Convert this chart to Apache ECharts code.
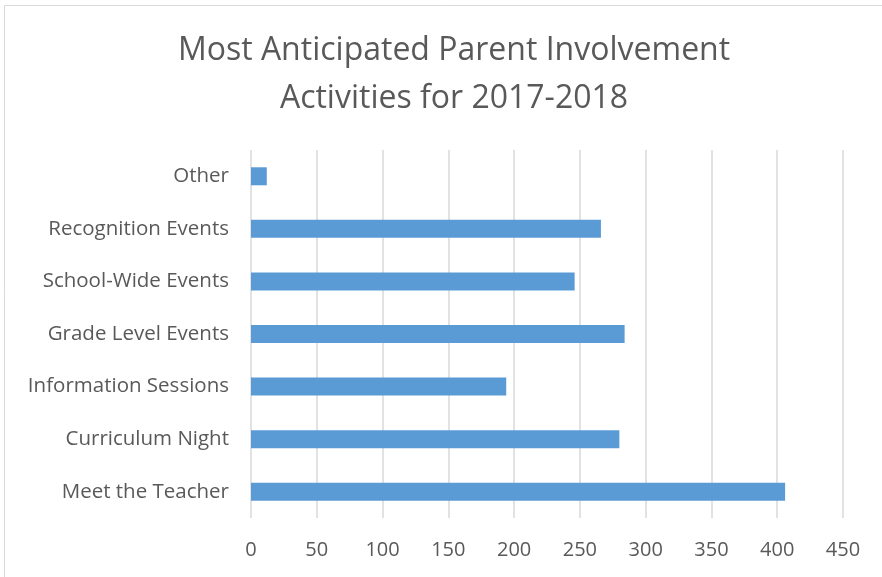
<!DOCTYPE html>
<html>
<head>
<meta charset="utf-8">
<script src="https://cdn.jsdelivr.net/npm/echarts@6/dist/echarts.min.js"></script>
<style>
  html, body { margin: 0; padding: 0; background: #fff; }
  #chart { width: 882px; height: 577px; }
</style>
</head>
<body>
<div id="chart"></div>
<script>
// categories, bottom to top (as in the reference)
var categories = ['Meet the Teacher', 'Curriculum Night', 'Information Sessions', 'Grade Level Events', 'School-Wide Events', 'Recognition Events', 'Other'];
var counts = [406, 280, 194, 284, 246, 266, 12];
var xTicks = [0, 50, 100, 150, 200, 250, 300, 350, 400, 450];

var textColor = '#595959';
var fontName = 'Open Sans';

var myChart = echarts.init(document.getElementById('chart'));
myChart.setOption({
  animation: false,
  backgroundColor: '#fff',
  graphic: [
    {
      type: 'rect',
      shape: { x: 4.5, y: 5.5, width: 900, height: 600 },
      style: { fill: 'none', stroke: '#D9D9D9', lineWidth: 1 },
      silent: true
    }
  ],
  title: {
    text: 'Most Anticipated Parent Involvement\nActivities for 2017-2018',
    left: 449,
    top: 22,
    textAlign: 'center',
    textStyle: {
      fontFamily: fontName,
      fontWeight: 'normal',
      fontSize: 32,
      lineHeight: 48,
      color: textColor
    }
  },
  grid: {
    left: 251,
    right: 882 - 843,
    top: 150,
    bottom: 577 - 518
  },
  xAxis: {
    type: 'value',
    min: xTicks[0],
    max: xTicks[xTicks.length - 1],
    interval: 50,
    axisLine: { show: false },
    axisTick: { show: false },
    splitLine: { show: true, lineStyle: { color: '#D9D9D9', width: 1.5 } },
    axisLabel: {
      color: textColor,
      fontFamily: fontName,
      fontSize: 20,
      margin: 22
    }
  },
  yAxis: {
    type: 'category',
    data: categories,
    axisLine: { show: false },
    axisTick: { show: false },
    axisLabel: {
      color: textColor,
      fontFamily: fontName,
      fontSize: 20.5,
      margin: 22
    }
  },
  series: [
    {
      type: 'bar',
      data: counts,
      barWidth: 18,
      itemStyle: { color: '#5B9BD5' }
    }
  ]
});
</script>
</body>
</html>
